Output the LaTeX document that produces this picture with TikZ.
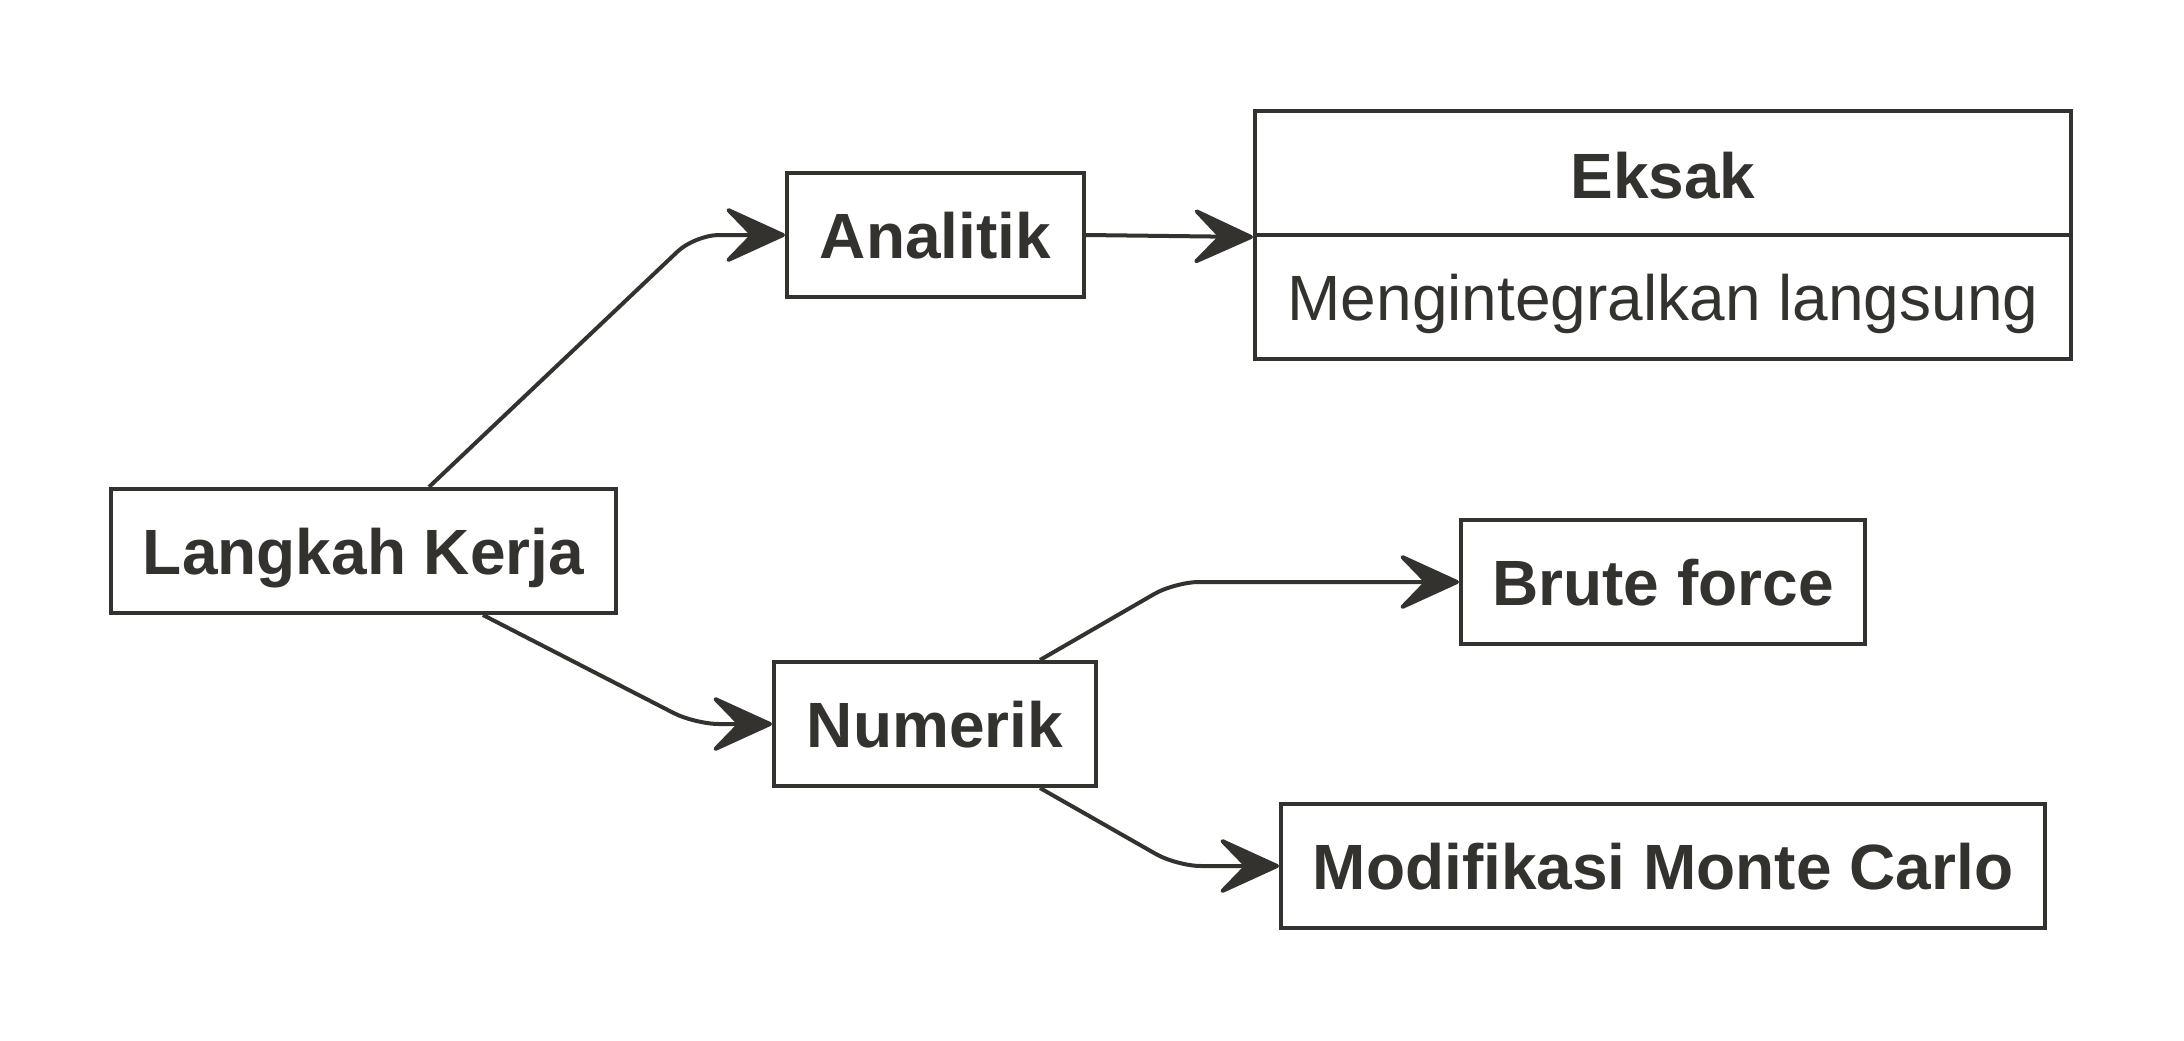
\documentclass[tikz,border=0pt]{standalone}
\usepackage{fontspec}
\setmainfont{Liberation Sans}
\usetikzlibrary{arrows.meta}
\definecolor{ink}{RGB}{51,50,46}
\begin{document}
\begin{tikzpicture}[x=0.5pt,y=-0.5pt,
  box/.style={draw=ink,line width=2pt,inner sep=0pt,minimum height=62pt,text=ink,
    text height=24pt,text depth=0.5pt,
    font=\fontsize{32}{38}\selectfont\bfseries},
  plain/.style={box,font=\fontsize{32}{38}\selectfont},
  arr/.style={draw=ink,line width=2pt,rounded corners=12pt,
    -{Stealth[length=34pt,width=31pt,inset=15pt,round]}}]
\useasboundingbox (0,0) rectangle (2184,1040);
\node[box,minimum width=252.5pt] (lk) at (363.5,551) {Langkah Kerja};
\node[box,minimum width=148.5pt] (ana) at (935.5,235) {Analitik};
\node[box,minimum width=408pt,text height=26pt] (ek) at (1663,173) {Eksak};
\node[plain,minimum width=408pt] (ekb) at (1663,297) {Mengintegralkan langsung};
\node[box,minimum width=161pt] (num) at (935,724) {Numerik};
\node[box,minimum width=202pt] (bf) at (1663,582) {Brute force};
\node[box,minimum width=382pt] (mc) at (1663,866) {Modifikasi Monte Carlo};
\draw[arr] ([xshift=32.75pt]lk.north) -- ([xshift=-45pt]ana.west) -- (ana.west);
\draw[arr] ([xshift=59.75pt]lk.south) -- ([xshift=-38.5pt]num.west) -- (num.west);
\draw[arr] (ana.east) -- (ek.south west);
\draw[arr] ([xshift=52.5pt]num.north) -- ([xshift=-142pt]bf.west) -- (bf.west);
\draw[arr] ([xshift=52.5pt]num.south) -- ([xshift=-51pt]mc.west) -- (mc.west);
\end{tikzpicture}
\end{document}
